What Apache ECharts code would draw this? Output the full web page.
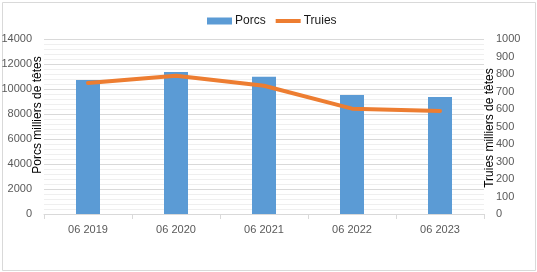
<!DOCTYPE html>
<html>
<head>
<meta charset="utf-8">
<script src="https://cdn.jsdelivr.net/npm/echarts@6/dist/echarts.min.js"></script>
<style>
html,body{margin:0;padding:0;background:#fff;}
#c{width:537px;height:272px;}
</style>
</head>
<body>
<div id="c"></div>
<script>
const categories = ['06 2019', '06 2020', '06 2021', '06 2022', '06 2023'];
const porcs = [10720, 11360, 10980, 9520, 9360];
const truies = [749, 790, 733, 602, 589];
const leftTicks = { min: 0, max: 14000, interval: 2000 };
const rightTicks = { min: 0, max: 1000, interval: 100 };
const leftTitle = 'Porcs milliers de têtes';
const rightTitle = 'Truies milliers de têtes';

const chart = echarts.init(document.getElementById('c'), null, { renderer: 'canvas' });
const FONT = '"Liberation Sans", Arial, sans-serif';
const plain = v => String(v);
chart.setOption({
  animation: false,
  backgroundColor: '#fff',
  textStyle: { fontFamily: FONT },
  grid: { left: 44, right: 53, top: 39, bottom: 58, containLabel: false, outerBoundsMode: 'none' },
  legend: {
    left: 207, top: 15, padding: 0,
    itemWidth: 25, itemHeight: 7, itemGap: 10,
    textStyle: { fontSize: 12, color: '#1a1a1a', fontFamily: FONT, padding: [0, 0, 0, -2] },
    data: [
      { name: 'Porcs', icon: 'rect' },
      { name: 'Truies', icon: 'path://M0,0L25,0L25,4L0,4Z', itemStyle: { color: '#ED7D31' } }
    ]
  },
  xAxis: {
    type: 'category',
    data: categories,
    axisLine: { lineStyle: { color: '#d9d9d9', width: 1 } },
    axisTick: { show: true, length: 5, lineStyle: { color: '#d9d9d9' } },
    axisLabel: { color: '#595959', fontSize: 11, margin: 10, fontFamily: FONT },
    splitLine: { show: false }
  },
  yAxis: [
    {
      type: 'value',
      min: leftTicks.min, max: leftTicks.max, interval: leftTicks.interval,
      axisLine: { show: false }, axisTick: { show: false },
      axisLabel: { color: '#595959', fontSize: 11, margin: 12, fontFamily: FONT, formatter: plain },
      splitLine: { show: true, lineStyle: { color: '#d9d9d9', width: 1 } },
      minorTick: { show: false, splitNumber: 5 },
      minorSplitLine: { show: true, lineStyle: { color: '#efefef', width: 1 } }
    },
    {
      type: 'value',
      min: rightTicks.min, max: rightTicks.max, interval: rightTicks.interval,
      axisLine: { show: false }, axisTick: { show: false },
      axisLabel: { color: '#595959', fontSize: 11, margin: 12, fontFamily: FONT, formatter: plain },
      splitLine: { show: false }
    }
  ],
  series: [
    {
      name: 'Porcs', type: 'bar', data: porcs, barWidth: 24,
      itemStyle: { color: '#5B9BD5' }
    },
    {
      name: 'Truies', type: 'line', yAxisIndex: 1, data: truies,
      symbol: 'none', showSymbol: false,
      lineStyle: { color: '#ED7D31', width: 4, cap: 'round', join: 'round' },
      itemStyle: { color: '#ED7D31' }
    }
  ],
  graphic: [
    { type: 'rect', left: 0, top: 0, shape: { x: 0.5, y: 0.5, width: 533, height: 268 },
      style: { fill: 'none', stroke: '#d9d9d9', lineWidth: 1 }, silent: true, z: -1 },
    { type: 'text', x: 38, y: 115, rotation: Math.PI / 2,
      style: { text: leftTitle, fontSize: 12, fill: '#000', align: 'center', verticalAlign: 'middle', fontFamily: FONT } },
    { type: 'text', x: 489.5, y: 128, rotation: Math.PI / 2,
      style: { text: rightTitle, fontSize: 12, fill: '#000', align: 'center', verticalAlign: 'middle', fontFamily: FONT } }
  ]
});
</script>
</body>
</html>
